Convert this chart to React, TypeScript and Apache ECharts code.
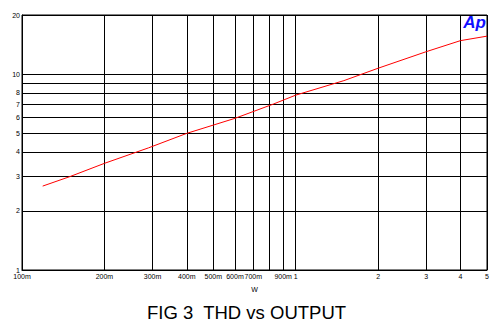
import React, { useEffect, useRef } from "react";
import * as echarts from "echarts";

const outputW = [0.119, 0.15, 0.2, 0.29, 0.4, 0.6, 0.83, 1.0, 1.5, 2.0, 3.0, 4.0, 5.0];
const thd = [2.68, 3.0, 3.5, 4.2, 4.98, 5.94, 7.03, 7.8, 9.25, 10.7, 13.0, 14.8, 15.6];

const xTicks = [0.1, 0.2, 0.3, 0.4, 0.5, 0.6, 0.7, 0.8, 0.9, 1, 2, 3, 4, 5];
const xTickLabels = ["100m", "200m", "300m", "400m", "500m", "600m", "700m", "", "900m", "1", "2", "3", "4", "5"];
const yTicks = [1, 2, 3, 4, 5, 6, 7, 8, 9, 10, 20];
const yTickLabels = ["1", "2", "3", "4", "5", "6", "7", "8", "", "10", "20"];

const titleText = "FIG 3  THD vs OUTPUT";
const xName = "W";

export default function App() {
  const ref = useRef<HTMLDivElement>(null);
  useEffect(() => {
    if (!ref.current) return;
    const chart = echarts.init(ref.current, null, { renderer: "svg" });
    const tickFont = { fontFamily: "Liberation Sans, Arial, sans-serif", fontSize: 7, color: "#000" };
    const xLines = xTicks.map((v, i) => ({
      xAxis: v,
      name: xTickLabels[i],
      label: { show: xTickLabels[i] !== "", position: "start", distance: 3, formatter: xTickLabels[i], ...tickFont },
    }));
    const yLines = yTicks.map((v, i) => ({
      yAxis: v,
      name: yTickLabels[i],
      label: { show: yTickLabels[i] !== "", position: "start", distance: 2, formatter: yTickLabels[i], ...tickFont },
    }));
    chart.setOption({
      animation: false,
      backgroundColor: "#fff",
      grid: { left: 22, right: 11, top: 15, bottom: 57, show: true, borderColor: "#000", borderWidth: 1, backgroundColor: "transparent" },
      title: {
        text: titleText,
        left: 142,
        top: 298,
        textStyle: { fontFamily: "Liberation Sans, Arial, sans-serif", fontSize: 18.5, fontWeight: "normal", color: "#000" },
      },
      xAxis: {
        type: "log",
        logBase: 10,
        min: 0.1,
        max: 5,
        name: xName,
        nameLocation: "middle",
        nameGap: 16,
        nameTextStyle: { fontFamily: "Liberation Sans, Arial, sans-serif", fontSize: 7, color: "#000" },
        axisLine: { show: true, lineStyle: { color: "#000", width: 1 } },
        axisTick: { show: false },
        axisLabel: { show: false },
        splitLine: { show: false },
      },
      yAxis: {
        type: "log",
        logBase: 10,
        min: 1,
        max: 20,
        axisLine: { show: true, lineStyle: { color: "#000", width: 1 } },
        axisTick: { show: false },
        axisLabel: { show: false },
        splitLine: { show: false },
      },
      graphic: [
        {
          type: "text",
          right: 12,
          top: 14,
          style: {
            text: "Ap",
            fill: "#1010ff",
            font: "italic bold 17px Liberation Sans, Arial, sans-serif",
          },
        },
      ],
      series: [
        {
          type: "line",
          name: "grid",
          data: outputW.map((x, i) => [x, thd[i]]),
          showSymbol: false,
          lineStyle: { opacity: 0 },
          silent: true,
          z: 1,
          markLine: {
            silent: true,
            symbol: ["none", "none"],
            lineStyle: { color: "#000", type: "solid", width: 1 },
            data: [...xLines, ...yLines],
          },
        },
        {
          type: "line",
          name: "THD",
          data: outputW.map((x, i) => [x, thd[i]]),
          showSymbol: false,
          smooth: false,
          lineStyle: { color: "#ff0000", width: 1 },
          z: 5,
        },
      ],
    });
    return () => chart.dispose();
  }, []);
  return <div ref={ref} style={{ width: 498, height: 327, position: "absolute", left: 0, top: 0 }} />;
}
